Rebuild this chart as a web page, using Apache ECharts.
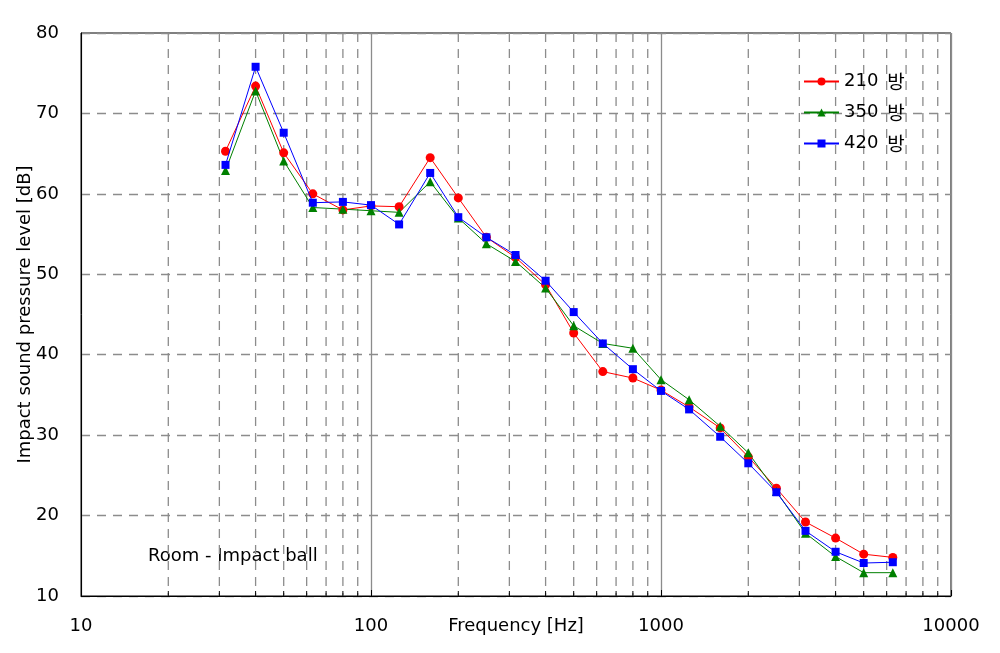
<!DOCTYPE html>
<html>
<head>
<meta charset="utf-8">
<script src="https://cdn.jsdelivr.net/npm/echarts@6/dist/echarts.min.js"></script>
<style>html,body{margin:0;padding:0;background:#fff}#c{width:1000px;height:653px}</style>
</head>
<body>
<div id="c"></div>
<script>
const freqs = [31.5, 40, 50, 63, 80, 100, 125, 160, 200, 250, 315, 400, 500, 630, 800, 1000, 1250, 1600, 2000, 2500, 3150, 4000, 5000, 6300];
const s210 = [65.3, 73.4, 65.1, 60.0, 58.0, 58.5, 58.4, 64.5, 59.5, 54.6, 52.1, 48.7, 42.7, 37.9, 37.1, 35.6, 33.5, 30.9, 27.3, 23.4, 19.2, 17.2, 15.2, 14.8];
const s350 = [62.9, 72.8, 64.1, 58.3, 58.1, 57.9, 57.7, 61.5, 57.0, 53.8, 51.6, 48.3, 43.6, 41.4, 40.8, 36.9, 34.4, 31.1, 27.8, 23.0, 17.8, 14.9, 12.9, 12.9];
const s420 = [63.6, 75.8, 67.6, 58.9, 59.0, 58.6, 56.2, 62.6, 57.1, 54.6, 52.4, 49.2, 45.3, 41.4, 38.2, 35.5, 33.2, 29.8, 26.5, 22.9, 18.1, 15.5, 14.1, 14.2];
const seriesNames = ['210 방', '350 방', '420 방'];
const minorFreqs = [20, 30, 40, 50, 60, 70, 80, 90, 200, 300, 400, 500, 600, 700, 800, 900, 2000, 3000, 4000, 5000, 6000, 7000, 8000, 9000];

const FONT = "'DejaVu Sans', 'Noto Sans CJK KR', sans-serif";
const FS = 18;
const chart = echarts.init(document.getElementById('c'), null, {renderer: 'canvas'});
const pair = arr => freqs.map((f, i) => [f, arr[i]]);

chart.setOption({
  animation: false,
  backgroundColor: '#fff',
  textStyle: {fontFamily: FONT},
  grid: {left: 81, right: 49, top: 33, bottom: 57, show: true, borderColor: '#000', borderWidth: 1, backgroundColor: 'transparent'},
  legend: {
    data: seriesNames,
    orient: 'vertical',
    left: 798,
    top: 67,
    itemWidth: 35,
    itemHeight: 10,
    itemGap: 12,
    formatter: function (name) {
      const parts = name.split(' ');
      return '{n|' + parts[0] + '}{k|' + parts[1] + '}';
    },
    textStyle: {
      fontFamily: FONT, fontSize: FS, color: '#000',
      rich: {
        n: {fontFamily: "'DejaVu Sans'", fontSize: FS, color: '#000', padding: [0, 9, 0, 0]},
        k: {fontFamily: "'Noto Sans CJK KR'", fontSize: 19, color: '#000'}
      }
    }
  },
  graphic: [{
    type: 'text', left: 148, top: 547,
    style: {text: 'Room - Impact ball', font: FS + "px 'DejaVu Sans'", fill: '#000'}
  }],
  xAxis: {
    type: 'log', logBase: 10, min: 10, max: 10000, splitNumber: 3,
    name: 'Frequency [Hz]', nameLocation: 'middle', nameGap: 21, nameMoveOverlap: false,
    nameTextStyle: {fontFamily: FONT, fontSize: FS, color: '#000'},
    axisLine: {lineStyle: {color: '#000', width: 1}},
    axisTick: {inside: true, length: 6, lineStyle: {color: '#000'}},
    axisLabel: {fontFamily: FONT, fontSize: FS, color: '#000', margin: 21, formatter: v => String(Math.round(v))},
    splitLine: {show: true, lineStyle: {color: '#8c8c8c', width: 1.3}}
  },
  yAxis: {
    type: 'value', min: 10, max: 80, interval: 10,
    name: 'Impact sound pressure level [dB]', nameLocation: 'middle', nameGap: 47, nameMoveOverlap: false,
    nameTextStyle: {fontFamily: FONT, fontSize: FS, color: '#000'},
    axisLine: {show: true, lineStyle: {color: '#000', width: 1}},
    axisTick: {show: false},
    axisLabel: {fontFamily: FONT, fontSize: FS, color: '#000', margin: 22},
    splitLine: {show: true, lineStyle: {color: '#8c8c8c', width: 1.3, type: [9, 7]}}
  },
  series: [
    {
      type: 'custom', name: 'minor', silent: true, z: 1,
      data: minorFreqs.map(f => [f, 10]),
      encode: {x: 0, y: 1},
      renderItem: function (params, api) {
        const x = api.value(0);
        const top = api.coord([x, 80]);
        const bot = api.coord([x, 10]);
        return {
          type: 'group',
          children: [
            {type: 'line', shape: {x1: top[0], y1: top[1], x2: bot[0], y2: bot[1]},
             style: {stroke: '#8c8c8c', lineWidth: 1.3, lineDash: [9, 7]}},
            {type: 'line', shape: {x1: bot[0], y1: bot[1], x2: bot[0], y2: bot[1] - 5},
             style: {stroke: '#000', lineWidth: 1}}
          ]
        };
      }
    },
    {name: seriesNames[0], type: 'line', data: pair(s210), symbol: 'circle', symbolSize: 9, z: 3,
     itemStyle: {color: '#ff0000'}, lineStyle: {color: '#ff0000', width: 1}},
    {name: seriesNames[1], type: 'line', data: pair(s350), symbol: 'triangle', symbolSize: 9, z: 3,
     itemStyle: {color: '#008000'}, lineStyle: {color: '#008000', width: 1}},
    {name: seriesNames[2], type: 'line', data: pair(s420), symbol: 'rect', symbolSize: 8, z: 4,
     itemStyle: {color: '#0000ff'}, lineStyle: {color: '#0000ff', width: 1}}
  ]
});
</script>
</body>
</html>
